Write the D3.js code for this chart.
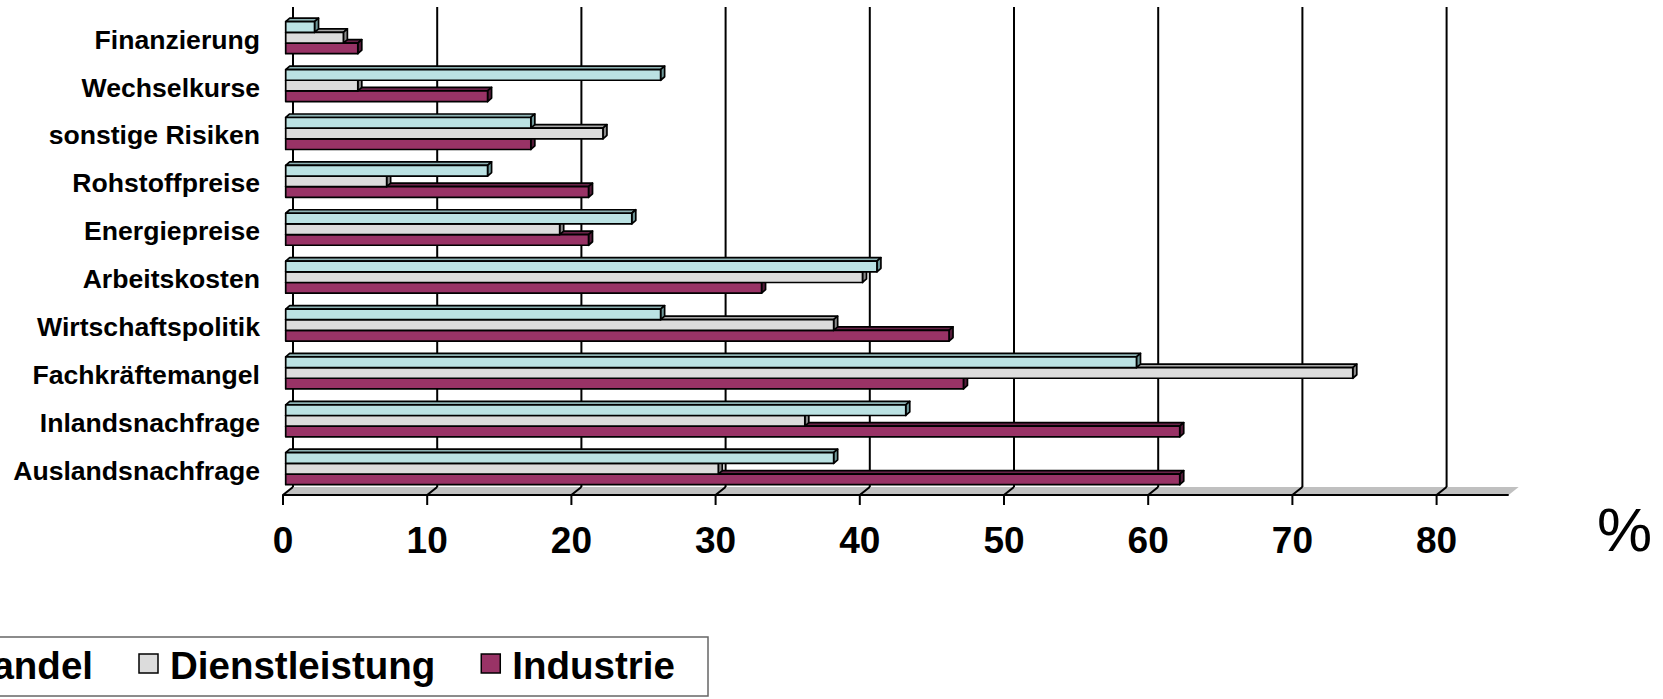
<!DOCTYPE html>
<html><head><meta charset="utf-8">
<script src="https://cdn.jsdelivr.net/npm/d3@7"></script>
<style>html,body{margin:0;padding:0;background:#fff;overflow:hidden}svg{display:block}</style>
</head><body>
<svg id="chart" width="1663" height="699"></svg>
<script>
const categories = ["Finanzierung","Wechselkurse","sonstige Risiken","Rohstoffpreise","Energiepreise","Arbeitskosten","Wirtschaftspolitik","Fachkräftemangel","Inlandsnachfrage","Auslandsnachfrage"];
const seriesNames = ["Handel","Dienstleistung","Industrie"];
const handel = [2,26,17,14,24,41,26,59,43,38];
const dienstleistung = [4,5,22,7,19,40,38,74,36,30];
const industrie = [5,14,17,21,21,33,46,47,62,62];
const tickValues = [0,10,20,30,40,50,60,70,80];
const unitLabel = "%";

const seriesValues = [handel, dienstleistung, industrie];
const colors = {
  Handel: {front:"#BBE2E3", top:"#8EB3B4", side:"#6F9798"},
  Dienstleistung: {front:"#DCDCDC", top:"#A9A9A9", side:"#8A8A8A"},
  Industrie: {front:"#993366", top:"#6A2348", side:"#551C3A"}
};

const svg = d3.select("#chart");
const FONT = "'Liberation Sans', Arial, sans-serif";

const x = d3.scaleLinear().domain([0,85]).range([283, 1508.7]);
const y = d3.scalePoint().domain(categories).range([37.7, 468.7]);
const inner = d3.scaleBand().domain(seriesNames).range([-16, 16]);

const floorFront = 495, depthX = 10, depthY = -8;
const gridTop = 7;
const barDX = 4, barDY = -3.5, barOffX = 2.7;

// back wall gridlines
svg.append("g").selectAll("line").data(tickValues).join("line")
  .attr("x1", d => x(d) + depthX).attr("x2", d => x(d) + depthX)
  .attr("y1", gridTop).attr("y2", floorFront + depthY)
  .attr("stroke", "#000").attr("stroke-width", 2);

// floor
const x0 = x(0), x1 = x(85);
svg.append("path")
  .attr("d", `M${x0},${floorFront} L${x1},${floorFront} L${x1+depthX},${floorFront+depthY} L${x0+depthX},${floorFront+depthY} Z`)
  .attr("fill", "#C0C0C0");
svg.append("g").selectAll("path").data(tickValues).join("path")
  .attr("d", d => `M${x(d)+depthX},${floorFront+depthY} L${x(d)},${floorFront} L${x(d)},${floorFront+10}`)
  .attr("fill", "none").attr("stroke", "#000").attr("stroke-width", 2);
svg.append("line").attr("x1", x0).attr("x2", x1).attr("y1", floorFront).attr("y2", floorFront)
  .attr("stroke", "#000").attr("stroke-width", 2.2);

// bars
const rows = [];
categories.forEach((c, i) => {
  for (let s = seriesNames.length - 1; s >= 0; s--) {
    rows.push({cat: c, series: seriesNames[s], value: seriesValues[s][i]});
  }
});
const barH = inner.bandwidth();
const gBars = svg.append("g").attr("stroke", "#000").attr("stroke-width", 1.7).attr("stroke-linejoin", "round");
rows.forEach(r => {
  const xs = x(0) + barOffX;
  const xe = x(r.value) + barOffX;
  const yt = y(r.cat) + inner(r.series);
  const yb = yt + barH;
  const col = colors[r.series];
  const g = gBars.append("g");
  g.append("path").attr("fill", col.top)
    .attr("d", `M${xs},${yt} L${xs+barDX},${yt+barDY} L${xe+barDX},${yt+barDY} L${xe},${yt} Z`);
  g.append("path").attr("fill", col.side)
    .attr("d", `M${xe},${yt} L${xe+barDX},${yt+barDY} L${xe+barDX},${yb+barDY} L${xe},${yb} Z`);
  g.append("rect").attr("fill", col.front)
    .attr("x", xs).attr("y", yt).attr("width", xe - xs).attr("height", barH);
});

// category labels
svg.append("g").selectAll("text").data(categories).join("text")
  .attr("x", 260).attr("y", d => y(d) + 11)
  .attr("text-anchor", "end")
  .attr("font-family", FONT).attr("font-weight", "bold").attr("font-size", 26.6)
  .attr("fill", "#000").text(d => d);

// value tick labels
svg.append("g").selectAll("text").data(tickValues).join("text")
  .attr("x", d => x(d)).attr("y", 553)
  .attr("text-anchor", "middle")
  .attr("font-family", FONT).attr("font-weight", "bold").attr("font-size", 37)
  .attr("fill", "#000").text(d => d);

svg.append("text").attr("x", 1597).attr("y", 551)
  .attr("font-family", FONT).attr("font-size", 62).attr("fill", "#000").text(unitLabel);

// legend
const lg = svg.append("g");
lg.append("rect").attr("x", -20).attr("y", 637).attr("width", 728).attr("height", 59)
  .attr("fill", "#fff").attr("stroke", "#666").attr("stroke-width", 1.5);
const legendFont = 38.5, sw = 19, swGap = 12, itemGap = 46, baseline = 679;
const tmp = lg.append("text").attr("font-family", FONT).attr("font-weight", "bold").attr("font-size", legendFont);
const lens = seriesNames.map(n => { tmp.text(n); return tmp.node().getComputedTextLength(); });
tmp.remove();
let cursor = 93 - lens[0];
seriesNames.forEach((n, i) => {
  const tx = cursor;
  lg.append("rect").attr("x", tx - swGap - sw).attr("y", 654).attr("width", sw).attr("height", sw)
    .attr("fill", colors[n].front).attr("stroke", "#000").attr("stroke-width", 1.5);
  lg.append("text").attr("x", tx).attr("y", baseline)
    .attr("font-family", FONT).attr("font-weight", "bold").attr("font-size", legendFont)
    .attr("fill", "#000").text(n);
  cursor = tx + lens[i] + itemGap + sw + swGap;
});
</script>
</body></html>
